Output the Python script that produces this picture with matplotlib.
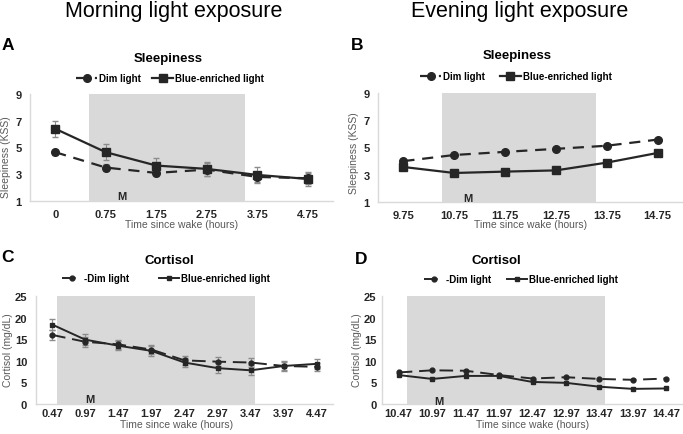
import matplotlib.pyplot as plt
import numpy as np

plt.rcParams['font.family'] = ['Liberation Sans', 'DejaVu Sans']

# =============== data ===============
sleep_morning_t = ['0', '0.75', '1.75', '2.75', '3.75', '4.75']
sleep_morning_dim = [4.65, 3.5, 3.1, 3.35, 2.8, 2.7]
sleep_morning_dim_err = [0.2, 0.25, 0.2, 0.5, 0.35, 0.4]
sleep_morning_blue = [6.4, 4.65, 3.65, 3.4, 2.95, 2.65]
sleep_morning_blue_err = [0.6, 0.6, 0.55, 0.55, 0.6, 0.55]

sleep_evening_t = ['9.75', '10.75', '11.75', '12.75', '13.75', '14.75']
sleep_evening_dim = [4.0, 4.45, 4.68, 4.9, 5.13, 5.58]
sleep_evening_blue = [3.57, 3.13, 3.23, 3.32, 3.89, 4.6]

cort_morning_t = ['0.47', '0.97', '1.47', '1.97', '2.47', '2.97', '3.47', '3.97', '4.47']
cort_morning_dim = [16.0, 14.4, 13.8, 12.6, 10.1, 9.8, 9.6, 8.8, 8.6]
cort_morning_dim_err = [1.1, 1.1, 1.1, 1.0, 1.0, 1.0, 1.0, 1.0, 1.0]
cort_morning_blue = [18.4, 14.9, 13.5, 12.3, 9.6, 8.3, 7.8, 8.8, 9.3]
cort_morning_blue_err = [1.2, 1.2, 1.1, 1.1, 1.1, 1.1, 1.2, 1.1, 1.2]

cort_evening_t = ['10.47', '10.97', '11.47', '11.97', '12.47', '12.97', '13.47', '13.97', '14.47']
cort_evening_dim = [7.3, 7.8, 7.7, 6.7, 5.9, 6.2, 5.8, 5.6, 5.9]
cort_evening_blue = [6.7, 5.8, 6.5, 6.5, 5.1, 4.9, 4.0, 3.5, 3.6]

# light exposure windows (category index units)
shade_a = (0.67, 3.76)
shade_b = (0.75, 3.79)
shade_c = (0.15, 6.13)
shade_d = (0.25, 6.16)

W, H = 683, 435
fig = plt.figure(figsize=(W / 100, H / 100), dpi=100)


def fx(x):
    return x / W


def fy(y):
    return 1 - y / H


def make_axes(left, right, top, bottom):
    return fig.add_axes([fx(left), fy(bottom), (right - left) / W, (bottom - top) / H])


grey_txt = '#595959'
tick_col = '#262626'


def style(ax, ticks, ylim, yticks, span, m_xy, ypad=6, xpad=6):
    x = np.arange(len(ticks))
    ax.set_xlim(-0.5, len(ticks) - 0.5)
    ax.set_ylim(*ylim)
    ax.set_xticks(x)
    ax.set_xticklabels(ticks)
    ax.set_yticks(yticks)
    ax.axvspan(span[0], span[1], color='#d9d9d9', lw=0, zorder=0)
    for s in ['top', 'right']:
        ax.spines[s].set_visible(False)
    for s in ['left', 'bottom']:
        ax.spines[s].set_color('#d9d9d9')
        ax.spines[s].set_linewidth(1)
    ax.tick_params(length=0, labelsize=8, colors=tick_col)
    ax.tick_params(axis='y', pad=ypad)
    ax.tick_params(axis='x', pad=xpad)
    for lab in ax.get_xticklabels() + ax.get_yticklabels():
        lab.set_fontweight('bold')
    ax.text(m_xy[0], m_xy[1], 'M', fontsize=8, fontweight='bold', color=tick_col,
            ha='center', va='center')
    ax.patch.set_alpha(0)


# ---- A: morning sleepiness ----
axA = make_axes(30, 333, 95, 202)
x = np.arange(len(sleep_morning_t))
axA.errorbar(x, sleep_morning_dim, yerr=sleep_morning_dim_err, fmt='none', ecolor='#8c8c8c',
             elinewidth=0.8, capsize=2, zorder=2)
axA.errorbar(x, sleep_morning_blue, yerr=sleep_morning_blue_err, fmt='none', ecolor='#8c8c8c',
             elinewidth=0.8, capsize=2, zorder=2)
axA.plot(x, sleep_morning_dim, ls=(0, (5, 3.5)), color='#262626', lw=1.6, marker='o', ms=5.5,
         label='Dim light', zorder=3)
axA.plot(x, sleep_morning_blue, ls='-', color='#262626', lw=1.6, marker='s', ms=6,
         label='Blue-enriched light', zorder=3)
style(axA, sleep_morning_t, (1, 9), [1, 3, 5, 7, 9], shade_a, (1.32, 1.38))

# ---- B: evening sleepiness ----
axB = make_axes(378, 683, 94, 203)
x = np.arange(len(sleep_evening_t))
axB.plot(x, sleep_evening_dim, ls=(0, (5, 3.5)), color='#262626', lw=1.6, marker='o', ms=5.5,
         label='Dim light', zorder=3)
axB.plot(x, sleep_evening_blue, ls='-', color='#262626', lw=1.6, marker='s', ms=6,
         label='Blue-enriched light', zorder=3)
style(axB, sleep_evening_t, (1, 9), [1, 3, 5, 7, 9], shade_b, (1.26, 1.33))

# ---- C: morning cortisol ----
axC = make_axes(35.5, 333.5, 297, 405)
x = np.arange(len(cort_morning_t))
axC.errorbar(x, cort_morning_dim, yerr=cort_morning_dim_err, fmt='none', ecolor='#8c8c8c',
             elinewidth=0.8, capsize=2, zorder=2)
axC.errorbar(x, cort_morning_blue, yerr=cort_morning_blue_err, fmt='none', ecolor='#8c8c8c',
             elinewidth=0.8, capsize=2, zorder=2)
axC.plot(x, cort_morning_dim, ls=(0, (7, 3.5)), color='#262626', lw=1.4, marker='o', ms=3.5,
         label='-Dim light', zorder=3)
axC.plot(x, cort_morning_blue, ls='-', color='#262626', lw=1.4, marker='s', ms=3.5,
         label='Blue-enriched light', zorder=3)
style(axC, cort_morning_t, (0, 25), [0, 5, 10, 15, 20, 25], shade_c, (1.15, 1.2), xpad=3)

# ---- D: evening cortisol ----
axD = make_axes(382, 683, 297, 405)
x = np.arange(len(cort_evening_t))
axD.plot(x, cort_evening_dim, ls=(0, (7, 3.5)), color='#262626', lw=1.4, marker='o', ms=3.5,
         label='-Dim light', zorder=3)
axD.plot(x, cort_evening_blue, ls='-', color='#262626', lw=1.4, marker='s', ms=3.5,
         label='Blue-enriched light', zorder=3)
style(axD, cort_evening_t, (0, 25), [0, 5, 10, 15, 20, 25], shade_d, (1.2, 0.8), ypad=4, xpad=3)

# legends
for ax, (cx, cy), gap in [(axA, (170, 79), 1.2), (axB, (516, 77), 1.6),
                          (axC, (166, 279), 3.0), (axD, (521, 280), 1.6)]:
    handles, labels = ax.get_legend_handles_labels()
    ax.legend(handles, labels, loc='center', bbox_to_anchor=(fx(cx), fy(cy)),
              bbox_transform=fig.transFigure, ncol=2, frameon=False,
              prop={'weight': 'bold', 'size': 7}, handlelength=2.1, handletextpad=0.2,
              columnspacing=gap, borderpad=0)

# text
fig.text(fx(174), fy(12), 'Morning light exposure', fontsize=15.5, ha='center', va='center')
fig.text(fx(520), fy(12), 'Evening light exposure', fontsize=15.5, ha='center', va='center')

for lab, px, py in [('A', 8, 45), ('B', 357, 46), ('C', 8, 258), ('D', 361, 259)]:
    fig.text(fx(px), fy(py), lab, fontsize=12.5, fontweight='bold', ha='center', va='center')

for lab, px, py in [('Sleepiness', 168, 59), ('Sleepiness', 517, 56),
                    ('Cortisol', 169, 261), ('Cortisol', 496, 261)]:
    fig.text(fx(px), fy(py), lab, fontsize=9.5, fontweight='bold', ha='center', va='center')

for px, py in [(182, 225), (531, 225), (177, 425), (533, 425)]:
    fig.text(fx(px), fy(py), 'Time since wake (hours)', fontsize=7.5, color=grey_txt,
             ha='center', va='center')

for lab, px, py in [('Sleepiness (KSS)', 6, 157), ('Sleepiness (KSS)', 354, 153),
                    ('Cortisol (mg/dL)', 8, 350), ('Cortisol (mg/dL)', 357, 350)]:
    fig.text(fx(px), fy(py), lab, fontsize=7.5, color=grey_txt, rotation=90,
             ha='center', va='center')

fig.savefig('out.png', dpi=100)
